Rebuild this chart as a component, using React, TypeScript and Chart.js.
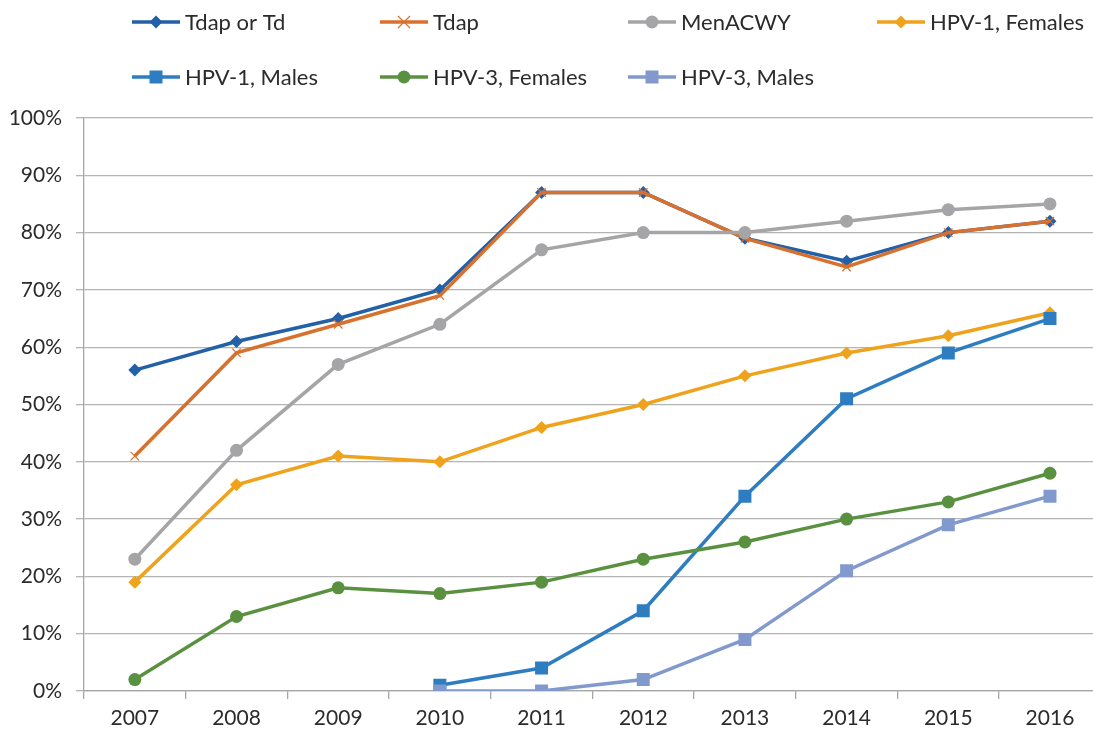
import React, { useEffect, useRef } from "react";
import { Chart, registerables } from "chart.js";

Chart.register(...registerables);

const years = ["2007", "2008", "2009", "2010", "2011", "2012", "2013", "2014", "2015", "2016"];
const tdapOrTd = [56, 61, 65, 70, 87, 87, 79, 75, 80, 82];
const tdap = [41, 59, 64, 69, 87, 87, 79, 74, 80, 82];
const menACWY = [23, 42, 57, 64, 77, 80, 80, 82, 84, 85];
const hpv1Females = [19, 36, 41, 40, 46, 50, 55, 59, 62, 66];
const hpv1Males = [null, null, null, 1, 4, 14, 34, 51, 59, 65];
const hpv3Females = [2, 13, 18, 17, 19, 23, 26, 30, 33, 38];
const hpv3Males = [null, null, null, 0, 0, 2, 9, 21, 29, 34];

const seriesNames = ["Tdap or Td", "Tdap", "MenACWY", "HPV-1, Females", "HPV-1, Males", "HPV-3, Females", "HPV-3, Males"];
const seriesData = [tdapOrTd, tdap, menACWY, hpv1Females, hpv1Males, hpv3Females, hpv3Males];
const seriesColors = ["#2260A8", "#D8712E", "#A5A5A7", "#EFA21C", "#2E7DC0", "#5A9140", "#8199CC"];
const seriesMarkers = ["rectRot", "crossRot", "circle", "rectRot", "rect", "circle", "rect"];
const seriesHalfSize = [6.5, 6, 6.5, 6.5, 6.5, 6.5, 6.5];

const FONT = "Lato, 'Open Sans', sans-serif";
const TEXT = "#2b2b2b";

function pointRadiusFor(style: string, half: number) {
  return style === "rect" ? half / Math.SQRT1_2 : half;
}

function drawMarker(ctx: CanvasRenderingContext2D, style: string, x: number, y: number, r: number, color: string) {
  ctx.save();
  ctx.fillStyle = color;
  ctx.strokeStyle = color;
  ctx.beginPath();
  if (style === "circle") {
    ctx.arc(x, y, r, 0, Math.PI * 2);
    ctx.fill();
  } else if (style === "rect") {
    ctx.fillRect(x - r, y - r, 2 * r, 2 * r);
  } else if (style === "rectRot") {
    ctx.moveTo(x, y - r);
    ctx.lineTo(x + r, y);
    ctx.lineTo(x, y + r);
    ctx.lineTo(x - r, y);
    ctx.closePath();
    ctx.fill();
  } else if (style === "crossRot") {
    ctx.lineWidth = 1.2;
    ctx.moveTo(x - r, y - r);
    ctx.lineTo(x + r, y + r);
    ctx.moveTo(x + r, y - r);
    ctx.lineTo(x - r, y + r);
    ctx.stroke();
  }
  ctx.restore();
}

const legendCols = [132, 380, 628, 877];
const legendRows = [22, 77];

const legendPlugin = {
  id: "customLegend",
  afterDraw(chart: any) {
    const ctx = chart.ctx as CanvasRenderingContext2D;
    ctx.save();
    seriesNames.forEach((name, i) => {
      const col = i < 4 ? i : i - 4;
      const row = i < 4 ? 0 : 1;
      const x = legendCols[col];
      const y = legendRows[row];
      ctx.strokeStyle = seriesColors[i];
      ctx.lineWidth = 3.5;
      ctx.beginPath();
      ctx.moveTo(x, y);
      ctx.lineTo(x + 48, y);
      ctx.stroke();
      drawMarker(ctx, seriesMarkers[i], x + 24, y, seriesHalfSize[i], seriesColors[i]);
      ctx.fillStyle = TEXT;
      ctx.font = "22px " + FONT;
      ctx.textBaseline = "middle";
      ctx.textAlign = "left";
      ctx.fillText(name, x + 53, y + 1);
    });
    ctx.restore();
  },
};

export default function App() {
  const ref = useRef<HTMLCanvasElement | null>(null);
  useEffect(() => {
    if (!ref.current) return;
    const chart = new Chart(ref.current, {
      type: "line",
      data: {
        labels: years,
        datasets: seriesData.map((d, i) => ({
          label: seriesNames[i],
          data: d as any,
          borderColor: seriesColors[i],
          backgroundColor: seriesColors[i],
          pointBackgroundColor: seriesColors[i],
          pointBorderColor: seriesColors[i],
          borderWidth: 3.5,
          pointStyle: seriesMarkers[i] as any,
          pointRadius: pointRadiusFor(seriesMarkers[i], seriesHalfSize[i]),
          pointBorderWidth: seriesMarkers[i] === "crossRot" ? 1.2 : 0,
          tension: 0,
          fill: false,
          spanGaps: false,
          order: 10 - i,
        })),
      },
      options: {
        responsive: false,
        animation: false,
        layout: { padding: { top: 118, right: 9, left: 0, bottom: 0 } },
        plugins: {
          legend: { display: false },
          tooltip: { enabled: false },
        },
        scales: {
          x: {
            offset: true,
            grid: {
              offset: true,
              drawOnChartArea: false,
              drawTicks: true,
              tickLength: 8,
              color: "#A6A6A6",
              lineWidth: 1.3,
            },
            border: { color: "#A6A6A6", width: 1.3 },
            ticks: {
              color: TEXT,
              font: { family: FONT, size: 21 },
              padding: 7,
              maxRotation: 0,
            },
            afterFit: (scale: any) => {
              scale.height = 43;
            },
          },
          y: {
            min: 0,
            max: 100,
            grid: {
              color: "#B4B4B4",
              lineWidth: 1.3,
              tickLength: 8,
            },
            border: { color: "#A6A6A6", width: 1.3 },
            ticks: {
              stepSize: 10,
              color: TEXT,
              font: { family: FONT, size: 21 },
              padding: 14,
              callback: (v: any) => v + "%",
            },
            afterFit: (scale: any) => {
              scale.width = 84;
            },
          },
        },
      },
      plugins: [legendPlugin],
    });
    return () => chart.destroy();
  }, []);
  return (
    <div style={{ position: "fixed", left: 0, top: 0, width: 1093, height: 734, overflow: "hidden", background: "#fff" }}>
      <canvas ref={ref} width={1110} height={734} style={{ display: "block" }} />
    </div>
  );
}
